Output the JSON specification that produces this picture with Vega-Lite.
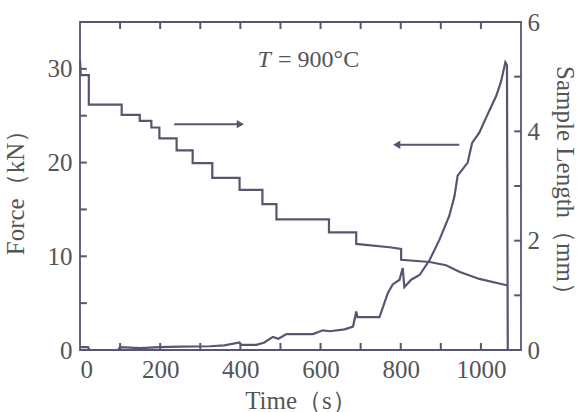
{
  "$schema": "https://vega.github.io/schema/vega-lite/v6.json",
  "width": 441,
  "height": 328,
  "autosize": {"type": "none"},
  "padding": {"left": 80, "top": 22, "right": 58, "bottom": 62},
  "background": "white",
  "config": {
    "view": {"stroke": "#5b5470", "strokeWidth": 1.8},
    "axis": {
      "domain": false, "ticks": false,
      "labelFont": "Liberation Serif", "labelFontSize": 25, "labelColor": "#555555",
      "titleFont": "Liberation Serif", "titleFontSize": 25, "titleColor": "#555555", "titleFontWeight": "normal",
      "grid": false
    }
  },
  "datasets": {
    "length": [
      {"t": 0, "L": 5.3}, {"t": 2, "L": 5.03}, {"t": 22, "L": 5.03}, {"t": 22, "L": 4.49},
      {"t": 104, "L": 4.49}, {"t": 104, "L": 4.30}, {"t": 149, "L": 4.30}, {"t": 149, "L": 4.19},
      {"t": 178, "L": 4.19}, {"t": 178, "L": 4.07}, {"t": 198, "L": 4.07}, {"t": 198, "L": 3.87},
      {"t": 241, "L": 3.87}, {"t": 241, "L": 3.65}, {"t": 281, "L": 3.65}, {"t": 281, "L": 3.42},
      {"t": 330, "L": 3.42}, {"t": 330, "L": 3.15}, {"t": 398, "L": 3.15}, {"t": 398, "L": 2.93},
      {"t": 455, "L": 2.93}, {"t": 455, "L": 2.67}, {"t": 490, "L": 2.67}, {"t": 490, "L": 2.39},
      {"t": 621, "L": 2.39}, {"t": 621, "L": 2.15}, {"t": 689, "L": 2.15}, {"t": 689, "L": 1.94},
      {"t": 772, "L": 1.88}, {"t": 801, "L": 1.85}, {"t": 801, "L": 1.65}, {"t": 872, "L": 1.61},
      {"t": 913, "L": 1.55}, {"t": 946, "L": 1.43}, {"t": 996, "L": 1.30}, {"t": 1067, "L": 1.18}
    ],
    "force": [
      {"t": 0, "F": 0.3}, {"t": 20, "F": 0.3}, {"t": 24, "F": 0}, {"t": 95, "F": 0}, {"t": 100, "F": 0.3},
      {"t": 150, "F": 0.2}, {"t": 199, "F": 0.3}, {"t": 250, "F": 0.35}, {"t": 324, "F": 0.4},
      {"t": 360, "F": 0.5}, {"t": 398, "F": 0.8}, {"t": 402, "F": 0.55}, {"t": 440, "F": 0.55},
      {"t": 460, "F": 0.8}, {"t": 481, "F": 1.4}, {"t": 495, "F": 1.2}, {"t": 515, "F": 1.7},
      {"t": 581, "F": 1.7}, {"t": 606, "F": 2.1}, {"t": 623, "F": 2.0}, {"t": 660, "F": 2.2},
      {"t": 681, "F": 2.5}, {"t": 689, "F": 4.1}, {"t": 692, "F": 3.5}, {"t": 747, "F": 3.5},
      {"t": 768, "F": 6.1}, {"t": 780, "F": 7.0}, {"t": 797, "F": 7.5}, {"t": 805, "F": 8.75},
      {"t": 809, "F": 6.7}, {"t": 826, "F": 7.5}, {"t": 847, "F": 8.0}, {"t": 872, "F": 9.6},
      {"t": 897, "F": 11.8}, {"t": 921, "F": 14.3}, {"t": 934, "F": 16.4}, {"t": 942, "F": 18.6},
      {"t": 967, "F": 20.0}, {"t": 978, "F": 22.1}, {"t": 996, "F": 23.2}, {"t": 1013, "F": 24.8},
      {"t": 1025, "F": 25.9}, {"t": 1038, "F": 27.1}, {"t": 1050, "F": 28.6}, {"t": 1061, "F": 30.7},
      {"t": 1065, "F": 30.4}, {"t": 1067, "F": 0}
    ],
    "arrows": [
      {"t1": 235, "t2": 400, "F": 24.1, "head": 400, "shape": "triangle-right"},
      {"t1": 790, "t2": 946, "F": 21.9, "head": 790, "shape": "triangle-left"}
    ],
    "labels": [
      {"t": 443, "F": 30.9, "text": "T", "style": "italic"},
      {"t": 494, "F": 30.9, "text": "= 900°C", "style": "normal"}
    ],
    "xticks": [{"t": 100}, {"t": 200}, {"t": 300}, {"t": 400}, {"t": 500}, {"t": 600}, {"t": 700}, {"t": 800}, {"t": 900}, {"t": 1000}],
    "fticks": [{"F": 5}, {"F": 10}, {"F": 15}, {"F": 20}, {"F": 25}, {"F": 30}],
    "lticks": [{"L": 1}, {"L": 2}, {"L": 3}, {"L": 4}, {"L": 5}]
  },
  "layer": [
    {
      "data": {"name": "length"},
      "mark": {"type": "line", "color": "#5b5470", "strokeWidth": 2.2},
      "encoding": {
        "x": {"field": "t", "type": "quantitative", "scale": {"domain": [0, 1100], "nice": false}, "axis": null},
        "y": {"field": "L", "type": "quantitative", "scale": {"domain": [0, 6], "nice": false},
              "axis": {"orient": "right", "title": "Sample Length（mm）", "values": [0,2,4,6], "labelPadding": 6, "titlePadding": 12}}
      }
    },
    {
      "data": {"name": "force"},
      "mark": {"type": "line", "color": "#5b5470", "strokeWidth": 2.2},
      "encoding": {
        "x": {"field": "t", "type": "quantitative", "scale": {"domain": [0, 1100], "nice": false},
              "axis": {"orient": "bottom", "title": "Time（s）", "values": [0,200,400,600,800,1000], "labelPadding": 7, "titlePadding": 6, "format": "d"}},
        "y": {"field": "F", "type": "quantitative", "scale": {"domain": [0, 35], "nice": false},
              "axis": {"orient": "left", "title": "Force（kN）", "values": [0,10,20,30], "labelPadding": 8, "titlePadding": 19}}
      }
    },
    {
      "data": {"name": "fticks"},
      "mark": {"type": "rule", "strokeWidth": 2, "color": "#5b5470"},
      "encoding": {
        "x": {"datum": 0, "type": "quantitative", "scale": {"domain": [0, 1100], "nice": false}, "axis": null},
        "x2": {"datum": 17},
        "y": {"field": "F", "type": "quantitative", "scale": {"domain": [0, 35], "nice": false}, "axis": null}
      }
    },
    {
      "data": {"name": "lticks"},
      "mark": {"type": "rule", "strokeWidth": 2, "color": "#5b5470"},
      "encoding": {
        "x": {"datum": 1083, "type": "quantitative", "scale": {"domain": [0, 1100], "nice": false}, "axis": null},
        "x2": {"datum": 1100},
        "y": {"field": "L", "type": "quantitative", "scale": {"domain": [0, 6], "nice": false}, "axis": null}
      }
    },
    {
      "data": {"name": "xticks"},
      "mark": {"type": "rule", "strokeWidth": 2, "color": "#5b5470"},
      "encoding": {
        "x": {"field": "t", "type": "quantitative", "scale": {"domain": [0, 1100], "nice": false}, "axis": null},
        "y": {"datum": 0, "type": "quantitative", "scale": {"domain": [0, 35], "nice": false}, "axis": null},
        "y2": {"datum": 0.75}
      }
    },
    {
      "data": {"name": "xticks"},
      "mark": {"type": "rule", "strokeWidth": 2, "color": "#5b5470"},
      "encoding": {
        "x": {"field": "t", "type": "quantitative", "scale": {"domain": [0, 1100], "nice": false}, "axis": null},
        "y": {"datum": 34.25, "type": "quantitative", "scale": {"domain": [0, 35], "nice": false}, "axis": null},
        "y2": {"datum": 35}
      }
    },
    {
      "data": {"name": "arrows"},
      "mark": {"type": "rule", "color": "#5b5470", "strokeWidth": 2},
      "encoding": {
        "x": {"field": "t1", "type": "quantitative", "scale": {"domain": [0, 1100], "nice": false}, "axis": null},
        "x2": {"field": "t2"},
        "y": {"field": "F", "type": "quantitative", "scale": {"domain": [0, 35], "nice": false}, "axis": null}
      }
    },
    {
      "data": {"name": "arrows"},
      "mark": {"type": "point", "filled": true, "color": "#5b5470", "opacity": 1, "size": 70},
      "encoding": {
        "x": {"field": "head", "type": "quantitative", "scale": {"domain": [0, 1100], "nice": false}, "axis": null},
        "y": {"field": "F", "type": "quantitative", "scale": {"domain": [0, 35], "nice": false}, "axis": null},
        "shape": {"field": "shape", "type": "nominal", "scale": null}
      }
    },
    {
      "data": {"name": "labels"},
      "transform": [{"filter": "datum.style === 'italic'"}],
      "mark": {"type": "text", "align": "left", "baseline": "middle", "font": "Liberation Serif", "fontSize": 24, "fontStyle": "italic", "color": "#555555"},
      "encoding": {
        "x": {"field": "t", "type": "quantitative", "scale": {"domain": [0, 1100], "nice": false}, "axis": null},
        "y": {"field": "F", "type": "quantitative", "scale": {"domain": [0, 35], "nice": false}, "axis": null},
        "text": {"field": "text"}
      }
    },
    {
      "data": {"name": "labels"},
      "transform": [{"filter": "datum.style === 'normal'"}],
      "mark": {"type": "text", "align": "left", "baseline": "middle", "font": "Liberation Serif", "fontSize": 24, "color": "#555555"},
      "encoding": {
        "x": {"field": "t", "type": "quantitative", "scale": {"domain": [0, 1100], "nice": false}, "axis": null},
        "y": {"field": "F", "type": "quantitative", "scale": {"domain": [0, 35], "nice": false}, "axis": null},
        "text": {"field": "text"}
      }
    }
  ],
  "resolve": {"scale": {"y": "independent"}, "axis": {"x": "independent", "y": "independent"}}
}
